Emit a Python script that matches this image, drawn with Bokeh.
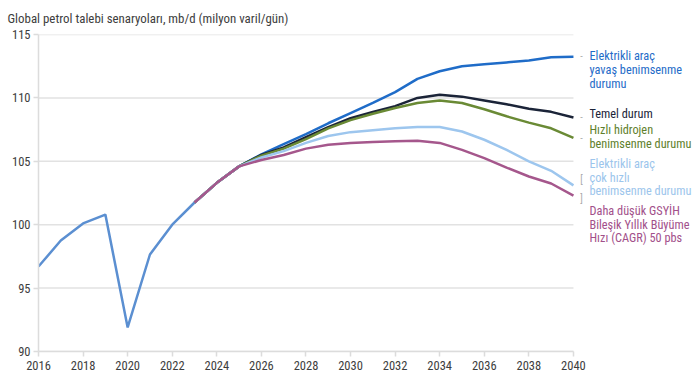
from bokeh.plotting import figure
from bokeh.models import Range1d, Label, FixedTicker
from bokeh.embed import file_html
from bokeh.resources import INLINE

FONT = "Roboto Condensed"

years_hist = [2016, 2017, 2018, 2019, 2020, 2021, 2022, 2023]
hist = [96.7, 98.75, 100.1, 100.8, 91.9, 97.65, 100.0, 101.75]

years_scen = list(range(2023, 2041))
ev_slow = [101.75, 103.3, 104.6, 105.55, 106.35, 107.15, 108.0, 108.8, 109.6,
           110.45, 111.5, 112.1, 112.5, 112.65, 112.8, 112.95, 113.2, 113.25]
base = [101.75, 103.3, 104.6, 105.5, 106.1, 106.9, 107.7, 108.4, 108.9,
        109.35, 110.0, 110.25, 110.1, 109.8, 109.5, 109.15, 108.9, 108.45]
hydrogen = [101.75, 103.3, 104.6, 105.45, 106.0, 106.75, 107.6, 108.25, 108.75,
            109.2, 109.6, 109.8, 109.6, 109.1, 108.55, 108.05, 107.6, 106.85]
ev_fast = [101.75, 103.3, 104.6, 105.3, 105.8, 106.45, 107.0, 107.3, 107.45,
           107.6, 107.7, 107.7, 107.35, 106.7, 105.9, 105.0, 104.25, 103.1]
low_gdp = [101.75, 103.3, 104.6, 105.1, 105.5, 106.0, 106.3, 106.45, 106.53,
           106.58, 106.62, 106.45, 105.9, 105.25, 104.5, 103.8, 103.25, 102.3]

x_ticks = list(range(2016, 2041, 2))
y_ticks = [90, 95, 100, 105, 110, 115]

title = "Global petrol talebi senaryoları, mb/d (milyon varil/gün)"

labels = [
    (["Elektrikli araç", "yavaş benimsenme", "durumu"], "#1f6cc8", [113.31, 112.21, 111.11]),
    (["Temel durum"], "#1b2438", [108.75]),
    (["Hızlı hidrojen", "benimsenme durumu"], "#5f7f2c", [107.45, 106.35]),
    (["Elektrikli araç", "çok hızlı", "benimsenme durumu"], "#9cc5ec", [104.78, 103.72, 102.66]),
    (["Daha düşük GSYİH", "Bileşik Yıllık Büyüme", "Hızı (CAGR) 50 pbs"], "#a2508a", [101.08, 99.98, 98.92]),
]
leaders = [("-", 113.3), ("-", 108.5), ("-", 106.8), ("[", 103.6), ("]", 102.1)]

p = figure(width=700, height=382, output_backend="svg", toolbar_location=None,
           x_range=Range1d(2016, 2045.7), y_range=Range1d(90, 115),
           min_border_left=38, min_border_right=0, min_border_top=33,
           min_border_bottom=31)
p.outline_line_color = None
p.background_fill_color = "white"
p.border_fill_color = "white"

p.title.text = title
p.title.align = "left"
p.title.offset = -31
p.title.text_font = FONT
p.title.text_font_size = "12.9px"
p.title.text_font_style = "normal"
p.title.text_color = "#3d3d3d"
p.title.standoff = 17

p.xgrid.grid_line_color = None
p.ygrid.grid_line_color = None
n = len(y_ticks)
p.segment(x0=[x_ticks[0]] * n, x1=[x_ticks[-1]] * n, y0=y_ticks, y1=y_ticks,
          line_color="#e2e2e2", line_width=1.5)

for ax in (p.xaxis, p.yaxis):
    ax.axis_line_color = "#dcdcdc"
    ax.axis_line_width = 1.5
    ax.major_tick_line_color = "#dcdcdc"
    ax.major_tick_line_width = 1.5
    ax.major_tick_out = 5
    ax.major_tick_in = 0
    ax.minor_tick_line_color = None
    ax.major_label_text_font = FONT
    ax.major_label_text_font_size = "12.5px"
    ax.major_label_text_color = "#3d3d3d"
p.xaxis.ticker = FixedTicker(ticks=x_ticks)
p.yaxis.ticker = FixedTicker(ticks=y_ticks)
p.xaxis.bounds = (x_ticks[0], x_ticks[-1])
p.xaxis.major_label_standoff = 4
p.yaxis.major_label_standoff = 3

p.line(years_hist, hist, line_color="#5b8fd1", line_width=2.5)
p.line(years_scen, ev_slow, line_color="#1f6cc8", line_width=2.5)
p.line(years_scen, base, line_color="#1b2438", line_width=2.5)
p.line(years_scen, hydrogen, line_color="#6a8a35", line_width=2.5)
p.line(years_scen, ev_fast, line_color="#9dc6ee", line_width=2.5)
p.line(years_scen, low_gdp, line_color="#a5578c", line_width=2.5)

for lines, color, ys in labels:
    for t, yv in zip(lines, ys):
        p.add_layout(Label(x=2040.72, y=yv, text=t, text_font=FONT,
                           text_font_size="12.3px", text_color=color,
                           text_baseline="middle", text_align="left"))
for t, yv in leaders:
    p.add_layout(Label(x=2040.3, y=yv, text=t, text_font=FONT,
                       text_font_size="10px", text_color="#aaaaaa",
                       text_baseline="middle", text_align="left"))

open("out.html", "w").write(file_html(p, INLINE))
